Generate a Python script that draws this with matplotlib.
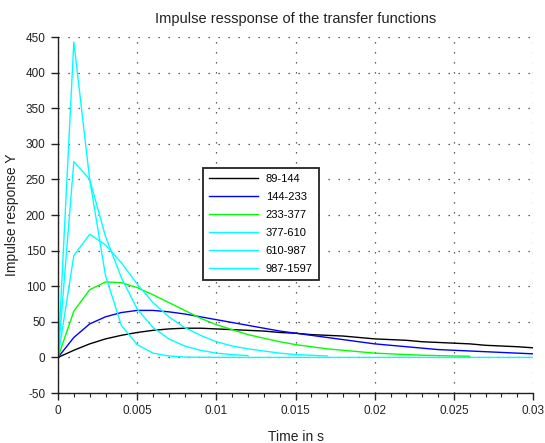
import matplotlib
matplotlib.use("Agg")
import matplotlib.pyplot as plt
from matplotlib.ticker import MultipleLocator, FixedLocator

plt.rcParams['font.family'] = ['Liberation Sans', 'DejaVu Sans']
plt.rcParams['axes.unicode_minus'] = False

# time samples (s)
t = [0.000, 0.001, 0.002, 0.003, 0.004, 0.005, 0.006, 0.007, 0.008, 0.009,
     0.010, 0.011, 0.012, 0.013, 0.014, 0.015, 0.016, 0.017, 0.018, 0.019,
     0.020, 0.021, 0.022, 0.023, 0.024, 0.025, 0.026, 0.027, 0.028, 0.029, 0.030]

labels = ["89-144", "144-233", "233-377", "377-610", "610-987", "987-1597"]
colors = ["#000000", "#0000ff", "#00ff00", "#00ffff", "#00ffff", "#00ffff"]

y_89_144 = [0, 10, 19, 26, 31, 35, 38, 40, 41, 41, 40, 39, 38, 37, 35, 34, 32,
            31, 30, 28, 26, 25, 24, 22, 21, 20, 19, 17, 16, 15, 13.5]
y_144_233 = [0, 28, 47, 57, 63, 66, 66, 64, 61, 57, 53, 49, 45, 41, 37, 34, 31,
             28, 25, 22, 19, 17, 15, 13, 11, 10, 9, 8, 7, 6, 5]
y_233_377 = [0, 65, 95, 106, 105, 98, 88, 77, 66, 55, 46, 39, 32, 27, 22, 18,
             15, 12, 10, 8, 6, 5, 4, 3, 2.5, 2, 1.5]
y_377_610 = [0, 143, 173, 158, 133, 103, 77, 57, 42, 31, 22, 16, 12, 9, 6, 4,
             3, 2]
y_610_987 = [0, 275, 250, 170, 112, 68, 42, 26, 16, 10, 6, 4, 2.5]
y_987_1597 = [0, 443, 250, 115, 45, 18, 6, 2, 0.5, 0.2, 0.1, 0, 0, 0, 0, 0, 0,
              0, 0, 0, 0, 0, 0, 0, 0, 0, 0, 0, 0, 0, 0]

series = [y_89_144, y_144_233, y_233_377, y_377_610, y_610_987, y_987_1597]

xticks = [0, 0.005, 0.01, 0.015, 0.02, 0.025, 0.03]
xticklabels = ["0", "0.005", "0.01", "0.015", "0.02", "0.025", "0.03"]
yticks = [-50, 0, 50, 100, 150, 200, 250, 300, 350, 400, 450]

fig = plt.figure(figsize=(5.45, 4.43), dpi=100)
ax = fig.add_axes([58/545, 1 - 393/443, (533-58)/545, (393-37)/443])

for ys, c, lab in zip(series, colors, labels):
    ax.plot(t[:len(ys)], ys, color=c, lw=1.0, label=lab)

ax.set_xlim(0, 0.03)
ax.set_ylim(-50, 450)
ax.xaxis.set_major_locator(FixedLocator(xticks))
ax.set_xticklabels(xticklabels)
ax.xaxis.set_minor_locator(MultipleLocator(0.001))
ax.yaxis.set_major_locator(FixedLocator(yticks))

for s in ['top', 'right']:
    ax.spines[s].set_visible(False)
for s in ['left', 'bottom']:
    ax.spines[s].set_linewidth(1.0)
    ax.spines[s].set_color('#222222')

ax.tick_params(axis='both', which='major', direction='out', length=5,
               width=1, labelsize=8.5, colors='#222222', pad=4)
ax.tick_params(axis='x', which='minor', direction='out', length=3, width=0.8,
               colors='#222222')

ax.grid(True, which='major', color='#333333', linestyle=(0, (1, 7)), lw=0.9)

ax.set_title("Impulse ressponse of the transfer functions", fontsize=10.5,
             pad=10, color='#222222')
ax.set_xlabel("Time in s", fontsize=10, labelpad=9, color='#222222')
ax.set_ylabel("Impulse response Y", fontsize=10, labelpad=5, color='#222222')

leg = ax.legend(loc='upper left', bbox_to_anchor=(0.305, 0.632), fontsize=8,
                handlelength=4.4, labelspacing=0.72, frameon=True,
                fancybox=False, framealpha=1, edgecolor='#222222',
                borderpad=0.55, handletextpad=0.7, borderaxespad=0)
leg.get_frame().set_linewidth(1.3)

fig.savefig("out.png", dpi=100)
